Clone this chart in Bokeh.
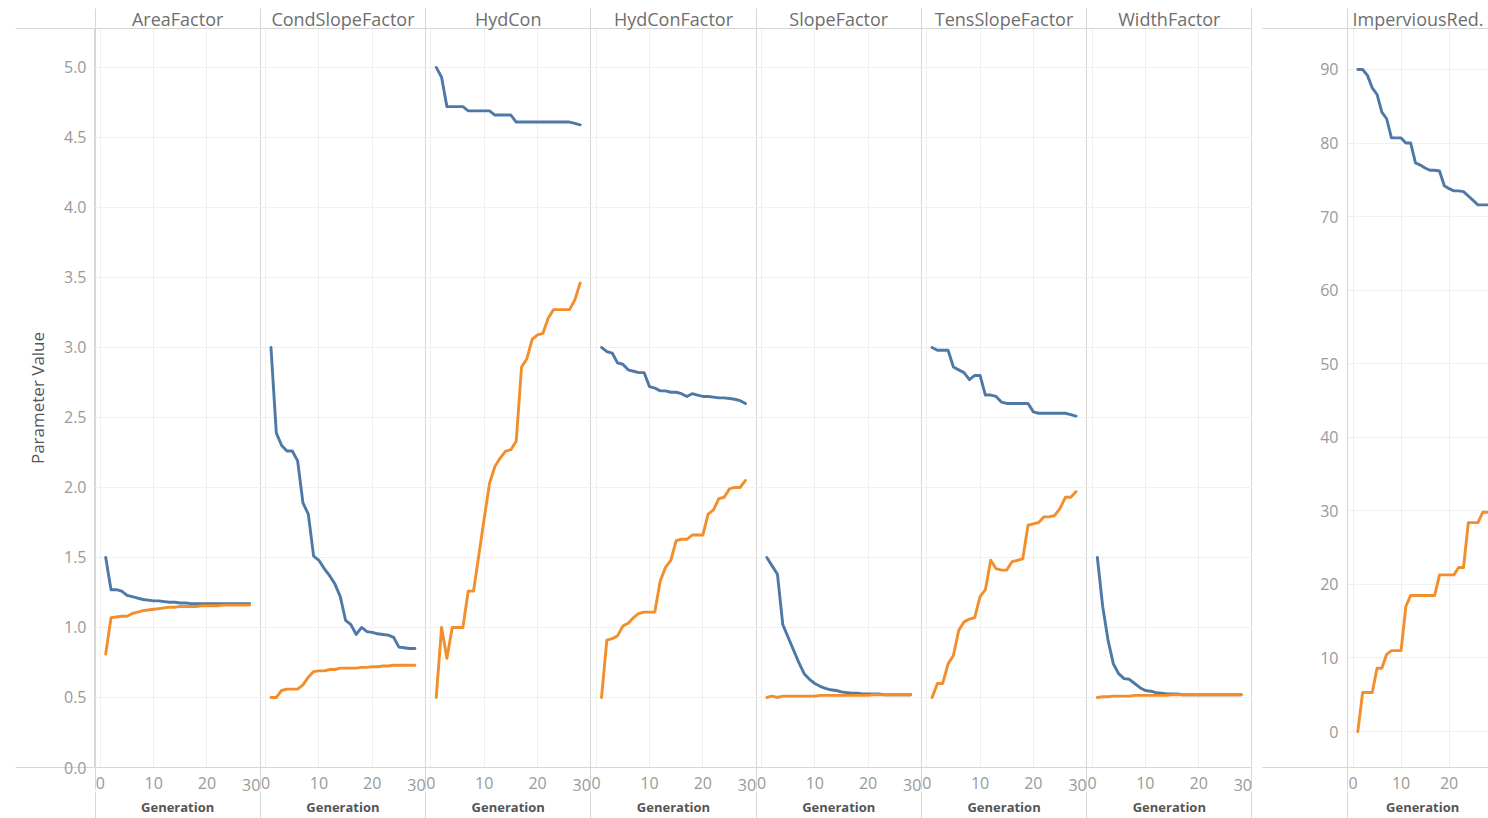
from bokeh.plotting import figure
from bokeh.models import Range1d, FixedTicker, LinearAxis
from bokeh.layouts import row
from bokeh.embed import file_html
from bokeh.resources import INLINE

# ---------------- data ----------------
generations = list(range(1, 29))
panel_names = ["AreaFactor", "CondSlopeFactor", "HydCon", "HydConFactor",
               "SlopeFactor", "TensSlopeFactor", "WidthFactor"]
right_panel_name = "ImperviousRed."
x_tick_values = [0, 10, 20]
x_last_tick = 30
y_ticks = [0.0, 0.5, 1.0, 1.5, 2.0, 2.5, 3.0, 3.5, 4.0, 4.5, 5.0]
imp_y_ticks = [0, 10, 20, 30, 40, 50, 60, 70, 80, 90]

area_max = [1.50, 1.27, 1.27, 1.26, 1.23, 1.22, 1.21, 1.20, 1.195, 1.19, 1.19, 1.185, 1.18, 1.18,
            1.175, 1.175, 1.17, 1.17, 1.17, 1.17, 1.17, 1.17, 1.17, 1.17, 1.17, 1.17, 1.17, 1.17]
area_min = [0.81, 1.07, 1.075, 1.08, 1.08, 1.10, 1.11, 1.12, 1.125, 1.13, 1.135, 1.14, 1.145, 1.145,
            1.15, 1.15, 1.15, 1.15, 1.155, 1.155, 1.155, 1.155, 1.16, 1.16, 1.16, 1.16, 1.16, 1.16]
cond_max = [3.00, 2.39, 2.30, 2.26, 2.26, 2.19, 1.89, 1.81, 1.51, 1.48, 1.42, 1.37, 1.31, 1.22,
            1.05, 1.02, 0.95, 1.00, 0.97, 0.965, 0.955, 0.95, 0.945, 0.93, 0.86, 0.855, 0.85, 0.85]
cond_min = [0.50, 0.50, 0.55, 0.56, 0.56, 0.56, 0.59, 0.645, 0.685, 0.69, 0.69, 0.70, 0.70, 0.71,
            0.71, 0.71, 0.71, 0.715, 0.715, 0.72, 0.72, 0.725, 0.725, 0.73, 0.73, 0.73, 0.73, 0.73]
hydcon_max = [5.00, 4.93, 4.72, 4.72, 4.72, 4.72, 4.69, 4.69, 4.69, 4.69, 4.69, 4.66, 4.66, 4.66,
              4.66, 4.61, 4.61, 4.61, 4.61, 4.61, 4.61, 4.61, 4.61, 4.61, 4.61, 4.61, 4.60, 4.59]
hydcon_min = [0.50, 1.00, 0.78, 1.00, 1.00, 1.00, 1.26, 1.26, 1.52, 1.78, 2.03, 2.15, 2.21, 2.26,
              2.27, 2.33, 2.86, 2.92, 3.06, 3.09, 3.10, 3.21, 3.27, 3.27, 3.27, 3.27, 3.34, 3.46]
hcf_max = [3.00, 2.97, 2.96, 2.89, 2.88, 2.84, 2.83, 2.82, 2.82, 2.72, 2.71, 2.69, 2.69, 2.68,
           2.68, 2.67, 2.65, 2.67, 2.66, 2.65, 2.65, 2.645, 2.64, 2.64, 2.635, 2.63, 2.62, 2.60]
hcf_min = [0.50, 0.91, 0.92, 0.94, 1.01, 1.03, 1.07, 1.10, 1.11, 1.11, 1.11, 1.33, 1.43, 1.48,
           1.62, 1.63, 1.63, 1.66, 1.66, 1.66, 1.81, 1.84, 1.92, 1.93, 1.99, 2.00, 2.00, 2.05]
slope_max = [1.50, 1.44, 1.38, 1.02, 0.93, 0.84, 0.75, 0.67, 0.63, 0.60, 0.58, 0.565, 0.555, 0.55,
             0.54, 0.535, 0.53, 0.53, 0.525, 0.525, 0.525, 0.525, 0.52, 0.52, 0.52, 0.52, 0.52, 0.52]
slope_min = [0.50, 0.51, 0.50, 0.51, 0.51, 0.51, 0.51, 0.51, 0.51, 0.51, 0.515, 0.515, 0.515, 0.515,
             0.515, 0.515, 0.515, 0.515, 0.515, 0.515, 0.52, 0.52, 0.52, 0.52, 0.52, 0.52, 0.52, 0.52]
tens_max = [3.00, 2.98, 2.98, 2.98, 2.86, 2.84, 2.82, 2.77, 2.80, 2.80, 2.66, 2.66, 2.65, 2.61,
            2.60, 2.60, 2.60, 2.60, 2.60, 2.54, 2.53, 2.53, 2.53, 2.53, 2.53, 2.53, 2.52, 2.51]
tens_min = [0.50, 0.60, 0.60, 0.74, 0.80, 0.98, 1.04, 1.06, 1.07, 1.22, 1.27, 1.48, 1.42, 1.41,
            1.41, 1.47, 1.48, 1.49, 1.73, 1.74, 1.75, 1.79, 1.79, 1.80, 1.85, 1.93, 1.93, 1.97]
width_max = [1.50, 1.15, 0.91, 0.74, 0.67, 0.635, 0.63, 0.60, 0.57, 0.55, 0.545, 0.535, 0.53, 0.525,
             0.525, 0.525, 0.52, 0.52, 0.52, 0.52, 0.52, 0.52, 0.52, 0.52, 0.52, 0.52, 0.52, 0.52]
width_min = [0.50, 0.505, 0.505, 0.51, 0.51, 0.51, 0.51, 0.515, 0.515, 0.515, 0.515, 0.515, 0.515, 0.515,
             0.52, 0.52, 0.52, 0.52, 0.52, 0.52, 0.52, 0.52, 0.52, 0.52, 0.52, 0.52, 0.52, 0.52]
imp_max = [90.0, 90.0, 89.2, 87.5, 86.6, 84.2, 83.3, 80.7, 80.7, 80.7, 80.0, 80.0, 77.3, 77.0,
           76.6, 76.3, 76.3, 76.2, 74.2, 73.8, 73.5, 73.5, 73.4, 72.8, 72.2, 71.6, 71.6, 71.6]
imp_min = [0.0, 5.3, 5.3, 5.3, 8.6, 8.6, 10.5, 11.0, 11.0, 11.0, 17.0, 18.5, 18.5, 18.5,
           18.5, 18.5, 18.5, 21.3, 21.3, 21.3, 21.3, 22.3, 22.3, 28.4, 28.4, 28.4, 29.8, 29.8]

max_series = [area_max, cond_max, hydcon_max, hcf_max, slope_max, tens_max, width_max]
min_series = [area_min, cond_min, hydcon_min, hcf_min, slope_min, tens_min, width_min]

# ---------------- style ----------------
BLUE = "#4e79a7"
ORANGE = "#f28e2b"
SEP = "#d6d6d6"
GRID = "#f0f0f0"
FONT = "Open Sans"
TICK_COLOR = "#999999"
HEAD_COLOR = "#6e6e6e"
LW = 2.9

SPAN = 31                      # generations per facet panel (incl. padding)
offsets = [i * SPAN for i in range(len(panel_names))]
bounds = [o - 1 for o in offsets] + [len(panel_names) * SPAN - 1]
centers = [o + 14.5 for o in offsets]
X0, X1 = -1.1, len(panel_names) * SPAN - 1 + 0.1
Y0, Y1 = 0.0, 5.278


def base_axis(ax, minor_out, standoff, size="16px", color=TICK_COLOR, style="normal"):
    ax.major_tick_out = 0
    ax.major_tick_in = 0
    ax.minor_tick_in = 0
    ax.minor_tick_out = minor_out
    ax.minor_tick_line_color = SEP
    ax.major_label_standoff = standoff
    ax.major_label_text_font = FONT
    ax.major_label_text_font_size = size
    ax.major_label_text_color = color
    ax.major_label_text_font_style = style


# ---------------- left facet group ----------------
p = figure(width=1252, height=818, x_range=Range1d(X0, X1), y_range=Range1d(Y0, Y1),
           output_backend="svg", toolbar_location=None,
           min_border_left=94, min_border_right=0, min_border_top=28, min_border_bottom=50)
p.outline_line_color = None
p.background_fill_color = "white"
p.border_fill_color = "white"

# bottom numeric axis
xa = p.xaxis[0]
num_ticks = [o + t for o in offsets for t in x_tick_values]
xa.ticker = FixedTicker(ticks=num_ticks, minor_ticks=bounds)
xa.major_label_overrides = {o + t: str(t) for o in offsets for t in x_tick_values}
base_axis(xa, 22, -13)
xa.axis_line_color = SEP

# "Generation" labels
axg = LinearAxis(ticker=FixedTicker(ticks=centers, minor_ticks=bounds),
                 major_label_overrides={c: "Generation" for c in centers})
base_axis(axg, 40, -34, size="13px", color="#555555", style="bold")
axg.axis_line_color = None
p.add_layout(axg, "below")

# "30" labels, right-aligned to their tick (tiny angle -> right anchor)
ax30 = LinearAxis(ticker=FixedTicker(ticks=[o + x_last_tick for o in offsets], minor_ticks=[]),
                  major_label_overrides={o + x_last_tick: str(x_last_tick) for o in offsets})
base_axis(ax30, 0, -34)
ax30.axis_line_color = None
ax30.major_label_orientation = 0.0001
p.add_layout(ax30, "below")

# header axis
axt = LinearAxis(ticker=FixedTicker(ticks=centers, minor_ticks=bounds),
                 major_label_overrides={c: n for c, n in zip(centers, panel_names)})
base_axis(axt, 20, -22, size="18px", color=HEAD_COLOR)
axt.axis_line_color = SEP
p.add_layout(axt, "above")

# y axis
ya = p.yaxis[0]
ya.ticker = FixedTicker(ticks=y_ticks, minor_ticks=[Y0 + 0.0005, Y1 - 0.0005])
ya.major_label_overrides = {v: f"{v:.1f}" for v in y_ticks}
base_axis(ya, 79, -71)
ya.axis_line_color = SEP
ya.axis_label = "Parameter Value"
ya.axis_label_text_font = FONT
ya.axis_label_text_font_size = "17px"
ya.axis_label_text_font_style = "normal"
ya.axis_label_text_color = "#555555"
ya.axis_label_standoff = 12

p.xgrid.grid_line_color = GRID
p.xgrid.minor_grid_line_color = SEP
p.ygrid.grid_line_color = GRID

for o, ymax, ymin in zip(offsets, max_series, min_series):
    xs = [g + o for g in generations]
    p.line(xs, ymax, line_color=BLUE, line_width=LW, line_join="round", line_cap="round")
    p.line(xs, ymin, line_color=ORANGE, line_width=LW, line_join="round", line_cap="round")

# ---------------- right panel ----------------
RX0, RX1 = -1.15, 28.2
RY0, RY1 = -4.89, 95.57
q = figure(width=236, height=818, x_range=Range1d(RX0, RX1), y_range=Range1d(RY0, RY1),
           output_backend="svg", toolbar_location=None,
           min_border_left=95, min_border_right=0, min_border_top=28, min_border_bottom=50)
q.outline_line_color = None
q.background_fill_color = "white"
q.border_fill_color = "white"

qx = q.xaxis[0]
qx.ticker = FixedTicker(ticks=x_tick_values, minor_ticks=[RX0 + 0.01])
base_axis(qx, 22, -13)
qx.axis_line_color = SEP

qg = LinearAxis(ticker=FixedTicker(ticks=[14.5], minor_ticks=[RX0 + 0.01]),
                major_label_overrides={14.5: "Generation"})
base_axis(qg, 40, -34, size="13px", color="#555555", style="bold")
qg.axis_line_color = None
q.add_layout(qg, "below")

qt = LinearAxis(ticker=FixedTicker(ticks=[(RX0 + RX1) / 2], minor_ticks=[RX0 + 0.01]),
                major_label_overrides={(RX0 + RX1) / 2: right_panel_name})
base_axis(qt, 20, -22, size="18px", color=HEAD_COLOR)
qt.axis_line_color = SEP
q.add_layout(qt, "above")

qy = q.yaxis[0]
qy.ticker = FixedTicker(ticks=imp_y_ticks, minor_ticks=[RY0 + 0.01, RY1 - 0.01])
base_axis(qy, 85, -76)
qy.axis_line_color = SEP

q.xgrid.grid_line_color = GRID
q.ygrid.grid_line_color = GRID

q.line(generations, imp_max, line_color=BLUE, line_width=LW, line_join="round", line_cap="round")
q.line(generations, imp_min, line_color=ORANGE, line_width=LW, line_join="round", line_cap="round")

layout = row(p, q)
open("out.html", "w").write(file_html(layout, INLINE))
